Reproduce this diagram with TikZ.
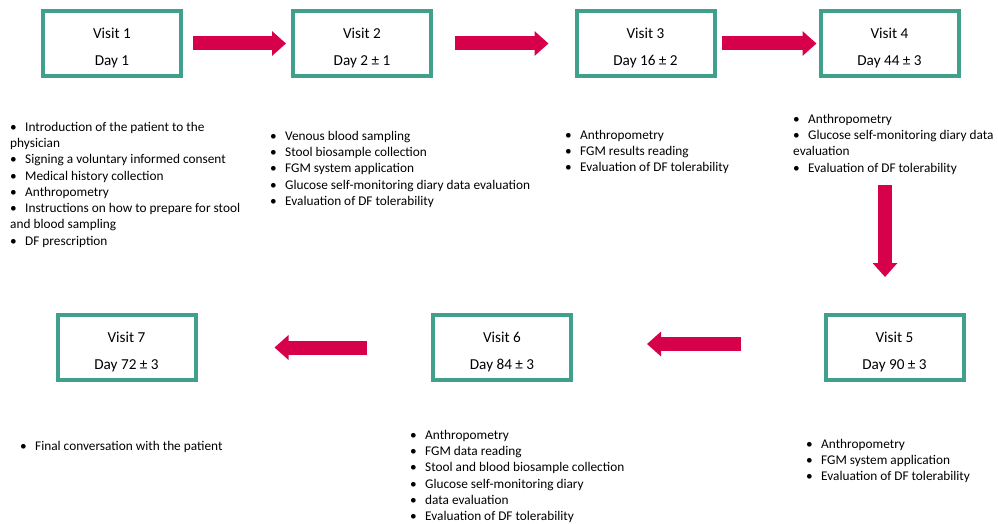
\documentclass[tikz,border=0pt]{standalone}
\usepackage{fontspec}
\setmainfont{Carlito}
\usepackage{xcolor}
\usetikzlibrary{arrows.meta}
\definecolor{boxgreen}{HTML}{41A08B}
\definecolor{arrowred}{HTML}{D6004B}
\newcommand{\itm}{\makebox[15pt][l]{\textbullet}}
\newcommand{\visitday}[2]{\rule{0pt}{20pt}Visit #1\\Day #2}

\begin{document}
\begin{tikzpicture}[
    x = 1pt, y = -1pt,
    visit/.style    = {draw=boxgreen, line width=4pt, minimum width=138pt, minimum height=65pt,
                       align=center, font=\fontsize{15.2}{27}\selectfont},
    tasks/.style    = {anchor=north west, inner sep=0pt, align=left, font=\fontsize{13.3}{16.3}\selectfont},
    bigarrow/.style = {draw=arrowred, line width=14pt, -{Triangle[width=24pt,length=14pt]}}
  ]
\useasboundingbox (0,0) rectangle (998,524);

\node[visit] (v1) at (112,43.5)    {\visitday{1}{1}};
\node[visit] (v2) at (362,43.5)    {\visitday{2}{2 ± 1}};
\node[visit] (v3) at (645.5,43.5)  {\visitday{3}{16 ± 2}};
\node[visit] (v4) at (889.5,43.5)  {\visitday{4}{44 ± 3}};
\node[visit] (v5) at (894.5,347.5) {\visitday{5}{90 ± 3}};
\node[visit] (v6) at (502,347.5)   {\visitday{6}{84 ± 3}};
\node[visit] (v7) at (126.5,347.5) {\visitday{7}{72 ± 3}};

\node[tasks] (b1) at (10,121.7) {\itm Introduction of the patient to the\\ physician\\
  \itm Signing a voluntary informed consent\\ \itm Medical history collection\\
  \itm Anthropometry\\ \itm Instructions on how to prepare for stool\\ and blood sampling\\
  \itm DF prescription};
\node[tasks] (b2) at (270,130.7) {\itm Venous blood sampling\\ \itm Stool biosample collection\\
  \itm FGM system application\\ \itm Glucose self-monitoring diary data evaluation\\
  \itm Evaluation of DF tolerability};
\node[tasks] (b3) at (565,129.7) {\itm Anthropometry\\ \itm FGM results reading\\
  \itm Evaluation of DF tolerability};
\node[tasks] (b4) at (793,113.7) {\itm Anthropometry\\ \itm Glucose self-monitoring diary data\\
  evaluation\\ \itm Evaluation of DF tolerability};
\node[tasks] (b5) at (806,438.7) {\itm Anthropometry\\ \itm FGM system application\\
  \itm Evaluation of DF tolerability};
\node[tasks] (b6) at (410,429.7) {\itm Anthropometry\\ \itm FGM data reading\\
  \itm Stool and blood biosample collection\\ \itm Glucose self-monitoring diary\\
  \itm data evaluation\\ \itm Evaluation of DF tolerability};
\node[tasks] (b7) at (20,440.7) {\itm Final conversation with the patient};

\coordinate (dn) at (885,0);
\draw[bigarrow, shorten <=10pt, shorten >=5pt]  (v1.east) -- (v2.west);
\draw[bigarrow, shorten <=22pt, shorten >=26pt] (v2.east) -- (v3.west);
\draw[bigarrow, shorten <=5pt, shorten >=2pt]   (v3.east) -- (v4.west);
\draw[bigarrow, shorten <=11pt, shorten >=36pt] (b4.south -| dn) -- (v5.north -| dn);
\draw[bigarrow, shorten <=83pt, shorten >=74pt] ([yshift=3.5pt]v5.west) -- ([yshift=3.5pt]v6.east);
\draw[bigarrow, shorten <=64pt, shorten >=77pt] (v6.west) -- (v7.east);
\end{tikzpicture}
\end{document}
